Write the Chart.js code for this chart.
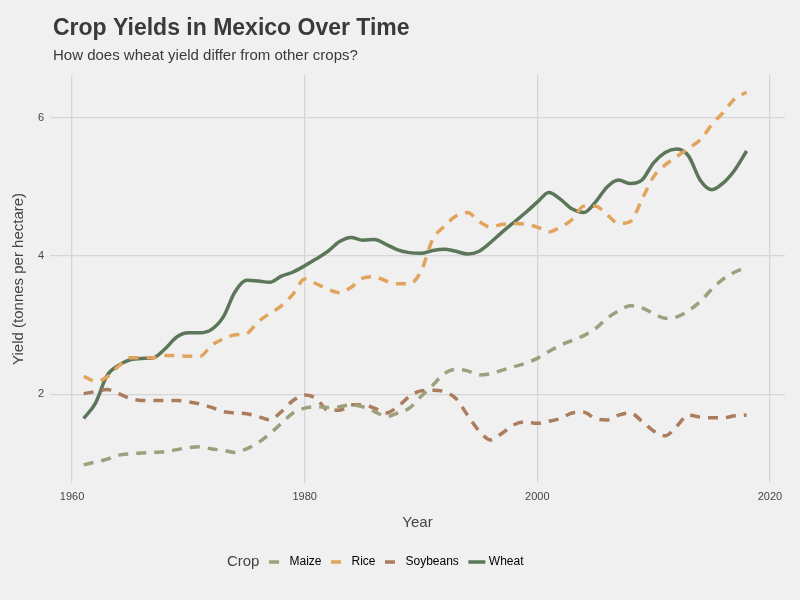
<!DOCTYPE html>
<html>
<head>
<meta charset="utf-8">
<script src="https://cdn.jsdelivr.net/npm/chart.js@4"></script>
<style>
  body { margin: 0; background: #f0f0f0; }
  #wrap { width: 800px; height: 600px; }
</style>
</head>
<body>
<div id="wrap"><canvas id="chart"></canvas></div>
<script>
const years = [];
for (let y = 1961; y <= 2018; y++) years.push(y);

const maize = [0.98,1.02,1.06,1.12,1.14,1.15,1.16,1.17,1.2,1.23,1.24,1.21,1.19,1.16,1.21,1.3,1.43,1.58,1.73,1.8,
  1.82,1.81,1.82,1.85,1.82,1.75,1.68,1.73,1.8,1.97,2.13,2.3,2.36,2.34,2.28,2.3,2.35,2.4,2.45,2.52,
  2.62,2.71,2.78,2.85,2.95,3.1,3.21,3.28,3.25,3.17,3.1,3.12,3.21,3.34,3.52,3.67,3.77,3.84];
const rice = [2.26,2.19,2.25,2.41,2.53,2.53,2.53,2.56,2.56,2.55,2.55,2.71,2.8,2.86,2.88,3.05,3.17,3.28,3.45,3.67,
  3.6,3.52,3.47,3.55,3.68,3.7,3.64,3.6,3.6,3.78,4.24,4.43,4.58,4.63,4.5,4.42,4.46,4.47,4.46,4.42,
  4.35,4.42,4.53,4.72,4.72,4.6,4.47,4.5,4.82,5.15,5.32,5.44,5.56,5.68,5.9,6.08,6.28,6.37];
const soybeans = [2.01,2.04,2.07,2.01,1.94,1.91,1.91,1.91,1.91,1.89,1.86,1.81,1.75,1.73,1.72,1.68,1.63,1.75,1.91,1.99,
  1.94,1.77,1.77,1.85,1.85,1.8,1.73,1.82,1.97,2.05,2.06,2.04,1.94,1.7,1.47,1.34,1.44,1.56,1.6,1.58,
  1.61,1.65,1.73,1.74,1.65,1.63,1.7,1.73,1.61,1.47,1.4,1.54,1.7,1.67,1.66,1.66,1.69,1.7];
const wheat = [1.65,1.87,2.27,2.42,2.5,2.52,2.53,2.66,2.83,2.89,2.89,2.94,3.12,3.48,3.65,3.64,3.62,3.71,3.77,3.86,
  3.96,4.07,4.21,4.27,4.23,4.24,4.17,4.09,4.05,4.04,4.08,4.1,4.07,4.03,4.07,4.2,4.35,4.49,4.63,4.78,
  4.92,4.82,4.68,4.63,4.78,5.0,5.1,5.05,5.1,5.35,5.5,5.55,5.45,5.1,4.96,5.06,5.25,5.52];
const yTicks = [2, 4, 6];
const xTicks = [1960, 1980, 2000, 2020];

function pts(vals) { return vals.map((v, i) => ({x: years[i], y: v})); }
const dash = [10, 8];
const FONT = '"Liberation Sans", Arial';

// title, subtitle and the "Crop" legend title
const headings = {
  id: 'headings',
  afterDraw(chart) {
    const c = chart.ctx;
    c.save();
    c.fillStyle = '#3a3a3a';
    c.textBaseline = 'middle';
    c.font = 'bold 23px ' + FONT;
    c.fillText('Crop Yields in Mexico Over Time', 53, 29);
    c.font = '15px ' + FONT;
    c.fillText('How does wheat yield differ from other crops?', 53, 56);
    const boxes = chart.legend.legendHitBoxes;
    if (boxes && boxes.length) {
      c.font = '15px ' + FONT;
      c.fillStyle = '#444';
      c.textAlign = 'right';
      c.fillText('Crop', boxes[0].left - 12, boxes[0].top + boxes[0].height / 2);
    }
    c.restore();
  }
};

new Chart(document.getElementById('chart'), {
  type: 'line',
  data: {
    datasets: [
      {label: 'Maize', data: pts(maize), borderColor: '#9e9f7c', borderDash: dash},
      {label: 'Rice', data: pts(rice), borderColor: '#e0a45c', borderDash: dash},
      {label: 'Soybeans', data: pts(soybeans), borderColor: '#ab7d5c', borderDash: dash},
      {label: 'Wheat', data: pts(wheat), borderColor: '#5b7658'}
    ]
  },
  options: {
    animation: false,
    responsive: true,
    maintainAspectRatio: false,
    elements: {
      line: {borderWidth: 3.5, tension: 0.3, cubicInterpolationMode: 'monotone', fill: false},
      point: {radius: 0}
    },
    layout: {padding: {left: 10, right: 15, top: 75, bottom: 22}},
    plugins: {
      legend: {
        position: 'bottom',
        labels: {
          usePointStyle: true, pointStyle: 'line', boxWidth: 34, padding: 12,
          color: '#444', font: {family: FONT, size: 12},
          generateLabels(chart) {
            return chart.data.datasets.map((d, i) => ({
              text: d.label, strokeStyle: d.borderColor, fillStyle: d.borderColor,
              lineWidth: 3.5, lineDash: d.borderDash || [], pointStyle: 'line', datasetIndex: i
            }));
          }
        }
      },
      tooltip: {enabled: false}
    },
    scales: {
      x: {
        type: 'linear', min: 1958.1, max: 2021.3,
        afterBuildTicks(axis) { axis.ticks = xTicks.map(v => ({value: v})); },
        grid: {color: '#d6d6d6', lineWidth: 1.3, drawTicks: false},
        border: {display: false},
        ticks: {color: '#444', font: {family: FONT, size: 11}, padding: 8, callback: v => String(v)},
        title: {display: true, text: 'Year', color: '#444', font: {family: FONT, size: 15}, padding: {top: 2, bottom: 12}}
      },
      y: {
        min: 0.72, max: 6.62,
        afterBuildTicks(axis) { axis.ticks = yTicks.map(v => ({value: v})); },
        afterFit(axis) { axis.width = 40; },
        grid: {color: '#d6d6d6', lineWidth: 1.3, drawTicks: false},
        border: {display: false},
        ticks: {color: '#444', font: {family: FONT, size: 11}, padding: 6},
        title: {display: true, text: 'Yield (tonnes per hectare)', color: '#444', font: {family: FONT, size: 15}, padding: {top: 0, bottom: 0}}
      }
    }
  },
  plugins: [headings]
});
</script>
</body>
</html>
